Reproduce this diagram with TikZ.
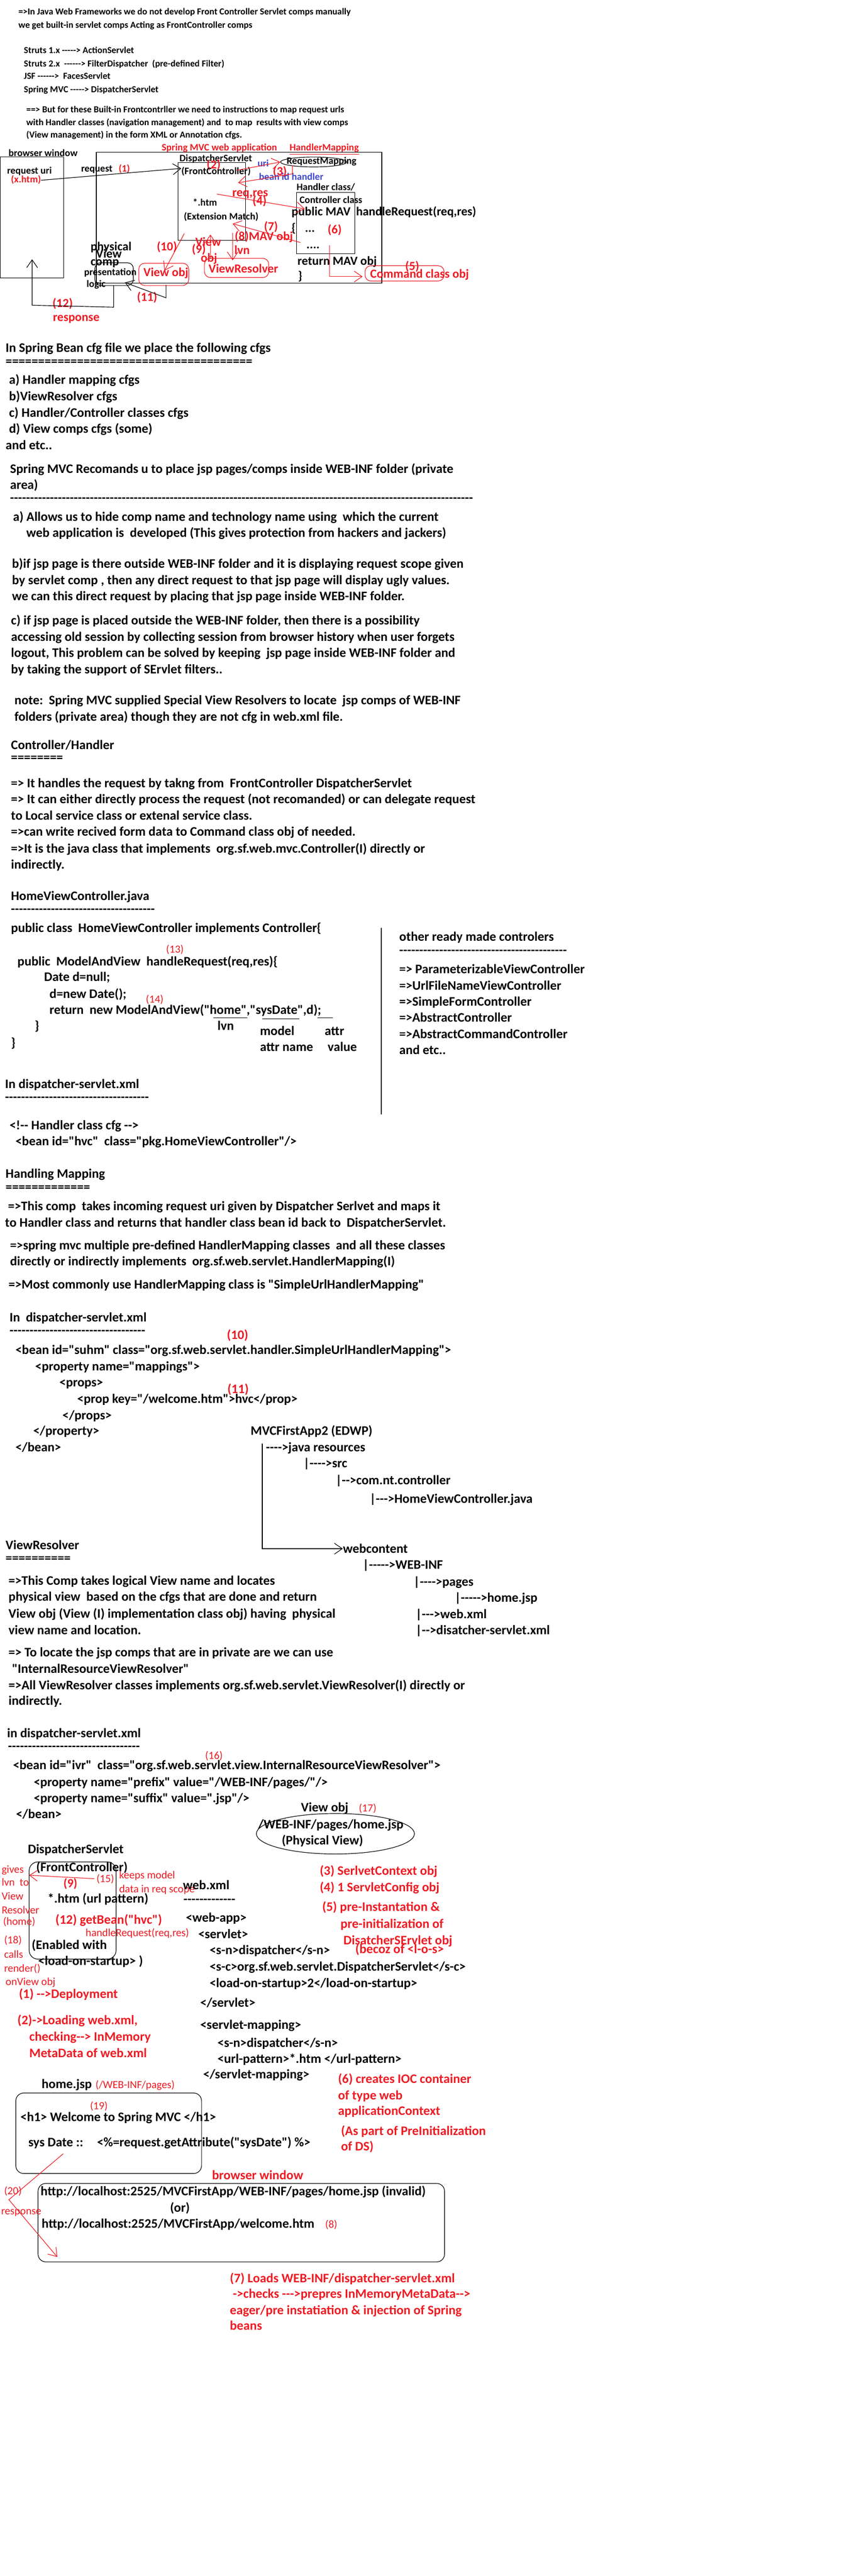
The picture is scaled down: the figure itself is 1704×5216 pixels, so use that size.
\documentclass[tikz,border=0pt]{standalone}
\usepackage{fontspec}
\setmainfont{Carlito}[Ligatures=TeXOff]
\usepackage{xcolor}
\definecolor{paintred}{RGB}{237,28,36}
\definecolor{paintblue}{RGB}{63,72,204}
\usepackage{tikz}
\usetikzlibrary{arrows.meta}
\usetikzlibrary{fit}
\usetikzlibrary{shapes.geometric}
\newcommand{\topfont}{\bfseries\fontsize{9.3}{11}\selectfont}
\newcommand{\bodyfont}{\bfseries\fontsize{13.2}{15}\selectfont}
\newcommand{\diafont}{\bfseries\fontsize{10}{12}\selectfont}
\newcommand{\bigfont}{\bfseries\fontsize{12.5}{14}\selectfont}
\newcommand{\thinfont}{\fontsize{11}{13}\selectfont}
\newcommand{\rep}[2]{\foreach \k in {1,...,#1}{#2}}
\tikzset{
    common/.style={anchor=base west, inner sep=0pt},
    toptext/.style={common, font=\topfont},
    body/.style={common, font=\bodyfont},
    rbody/.style={body, text=paintred},
    dia/.style={common, font=\diafont},
    rdia/.style={dia, text=paintred},
    bdia/.style={dia, text=paintblue},
    big/.style={common, font=\bigfont},
    rbig/.style={big, text=paintred},
    rthin/.style={common, font=\thinfont, text=paintred},
    pen/.style={line width=0.6pt},
    arr/.style={pen, -{Straight Barb[length=8pt,width=11pt]}},
    rarr/.style={arr, draw=paintred},
    box/.style={draw, pen, inner sep=0pt},
    kbox/.style={box, rounded corners=6pt},
    rbox/.style={box, draw=paintred, rounded corners=6pt}
}
\begin{document}
\begin{tikzpicture}[x=0.5pt, y=-0.5pt]
      \path[use as bounding box, fill=white] (0,0) rectangle (1704,5216);

      % front controllers
      \node[toptext] (fw-1) at (37,30) {=>In Java Web Frameworks we do not develop Front Controller Servlet comps manually};
      \node[toptext] (fw-2) at (37,57) {we get built-in servlet comps Acting as FrontController comps};
      \node[toptext] (fc-1) at (48,108) {Struts 1.x -----> ActionServlet};
      \node[toptext] (fc-2) at (48,135) {Struts 2.x\ \ ------> FilterDispatcher\ \ (pre-defined Filter)};
      \node[toptext] (fc-3) at (48,160) {JSF ------>\ \ FacesServlet};
      \node[toptext] (fc-4) at (48,187) {Spring MVC -----> DispatcherServlet};
      \node[toptext] (but-1) at (53,228) {==> But for these Built-in Frontcontrller we need to instructions to map request urls};
      \node[toptext] (but-2) at (53,254) {with Handler classes (navigation management) and\ \ to map\ \ results with view comps};
      \node[toptext] (but-3) at (53,279) {(View management) in the form XML or Annotation cfgs.};

      % flow diagram
      \node[dia] (bw-title) at (17,317) {browser window};
      \node[box, fit={(0,318) (129,563)}] (bw-box) {};
      \node[dia] (req-uri) at (14,352) {request uri};
      \node[rdia] (xhtm) at (22,370) {(x.htm)};
      \node[dia] (req-lbl) at (164,348) {request};
      \node[rdia] (n-1) at (240,348) {(1)};
      \node[box, fit={(195,308) (773,573)}] (app-box) {};
      \node[rdia] (app-title) at (327,305) {Spring MVC web application};
      \node[rdia] (hm-title) at (586,305) {HandlerMapping};
      \draw[pen, paintred] ([yshift=-3.5pt]hm-title.base west) -- ([yshift=-3.5pt]hm-title.base east);
      \node[dia] (ds-title) at (363,327) {DispatcherServlet};
      \node[box, fit={(360,329) (497,487)}] (ds-box) {};
      \node[rbig] (n-2) at (418,342) {(2)};
      \node[dia] (ds-fc) at (367,353) {(FrontController)};
      \node[box, ellipse, minimum width=67pt, minimum height=10pt] (rm-ell) at (635,328) {};
      \node[dia] (rm-lbl) at (580,332) {RequestMapping};
      \node[bdia] (uri) at (521,337) {uri};
      \node[rbig] (n-3) at (552,355) {(3)};
      \node[bdia] (bean-id) at (524,365) {bean id handler};
      \node[dia] (hc-title) at (600,385) {Handler class/};
      \node[box, fit={(600,390) (718,514)}] (hc-box) {};
      \node[dia] (cc-title) at (606,412) {Controller class};
      \node[big] (hr-sig) at (590,437) {public MAV\ \ handleRequest(req,res)};
      \node[big] (hr-open) at (590,470) {\{};
      \node[big] (hr-dots) at (617,470) {...};
      \node[rbig] (n-6) at (663,473) {(6)};
      \node[big] (hr-dots2) at (620,503) {....};
      \node[big] (hr-ret) at (602,537) {return MAV obj};
      \node[big] (hr-close) at (603,567) {\}};
      \node[rbig] (reqres) at (470,398) {req,res};
      \node[rbig] (n-4) at (511,415) {(4)};
      \node[dia] (ext) at (390,417) {*.htm};
      \node[dia] (ext-match) at (372,445) {(Extension Match)};
      \node[rbig] (n-7) at (534,467) {(7)};
      \node[rbig] (mav) at (475,487) {(8)MAV obj};
      \node[rbig] (vo-view) at (395,498) {View};
      \node[rbig] (n-9) at (388,513) {(9)};
      \node[rbig] (vo-obj) at (406,530) {obj};
      \node[rbig] (lvn) at (474,515) {lvn};
      \node[rbox, fit={(414,523) (544,562)}] (vr-box) {};
      \node[rbig] (vr-lbl) at (422,552) {ViewResolver};
      \node[rbig] (n-10) at (317,507) {(10)};
      \node[rbox, fit={(281,533) (382,578)}] (vob-box) {};
      \node[rbig] (vob-lbl) at (290,560) {View obj};
      \node[big] (pv-1) at (183,507) {physical};
      \node[big] (pv-2) at (194,522) {View};
      \node[big] (pv-3) at (183,538) {comp};
      \node[kbox, fit={(192,532) (270,578)}] (pv-box) {};
      \node[dia] (pv-4) at (170,558) {presentation};
      \node[dia] (pv-5) at (175,582) {logic};
      \node[rbig] (n-11) at (277,610) {(11)};
      \node[rbig] (n-12) at (106,622) {(12)};
      \node[rbig] (resp) at (107,650) {response};
      \node[rbox, fit={(739,538) (899,569)}] (cmd-box) {};
      \node[rbig] (cmd-lbl) at (749,563) {Command class obj};
      \node[rbig] (n-5) at (820,547) {(5)};

      \coordinate (a1-s) at (83,365);
      \coordinate (a1-e) at (367,341);
      \coordinate (a2-s) at (479,345);
      \coordinate (a3-s) at (592,335);
      \coordinate (a3-e) at (482,370);
      \coordinate (a4-s) at (439,393);
      \coordinate (a4-e) at (617,423);
      \coordinate (a7-s) at (608,491);
      \coordinate (a7-e) at (471,453);
      \coordinate (a9-s) at (426,525);
      \coordinate (a9-e) at (426,475);
      \coordinate (a8-s) at (471,472);
      \coordinate (a8-e) at (471,527);
      \coordinate (a10-s) at (373,473);
      \coordinate (a10-e) at (333,548);
      \coordinate (a11-s) at (336,577);
      \coordinate (a11-e) at (253,572);
      \coordinate (a12-s) at (230,578);
      \coordinate (a12-e) at (65,525);
      \coordinate (a5-s) at (667,497);
      \coordinate (a5-e) at (734,560);

      \draw[arr] (a1-s) -- (a1-e);
      \draw[rarr] (a2-s) -- (rm-ell.west);
      \draw[rarr] (a3-s) -- ++(0,17) -- (a3-e);
      \draw[rarr] (a4-s) -- (a4-e);
      \draw[rarr] (a7-s) -- (a7-e);
      \draw[rarr] (a9-s) -- (a9-e);
      \draw[rarr] (a8-s) -- (a8-e);
      \draw[rarr] (a10-s) -- (a10-e);
      \draw[arr] (a11-s) -- ++(0,26) -- (a11-e);
      \draw[arr] (a12-s) -- ++(0,44) -- (65,618) -- (a12-e);
      \draw[rarr] (a5-s) |- (a5-e);

      % spring bean cfg file
      \node[body] (cfg-title) at (11,713) {In Spring Bean cfg file we place the following cfgs};
      \node[body] (cfg-rule) at (11,740) {\rep{38}{=}};
      \node[body] (cfg-a) at (18,778) {a) Handler mapping cfgs};
      \node[body] (cfg-b) at (18,811) {b)ViewResolver cfgs};
      \node[body] (cfg-c) at (18,844) {c) Handler/Controller classes cfgs};
      \node[body] (cfg-d) at (18,877) {d) View comps cfgs (some)};
      \node[body] (cfg-etc) at (11,910) {and etc..};
      \node[body] (wi-title) at (20,958) {Spring MVC Recomands u to place jsp pages/comps inside WEB-INF folder (private};
      \node[body] (wi-title2) at (20,991) {area)};
      \node[body] (wi-rule) at (20,1017) {\rep{116}{-}};
      \node[body] (wi-a1) at (26,1055) {a) Allows us to hide comp name and technology name using\ \ which the current};
      \node[body] (wi-a2) at (53,1088) {web application is\ \ developed (This gives protection from hackers and jackers)};
      \node[body] (wi-b1) at (24,1150) {b)if jsp page is there outside WEB-INF folder and it is displaying request scope given};
      \node[body] (wi-b2) at (24,1183) {by servlet comp , then any direct request to that jsp page will display ugly values.};
      \node[body] (wi-b3) at (24,1216) {we can this direct request by placing that jsp page inside WEB-INF folder.};
      \node[body] (wi-c1) at (22,1265) {c) if jsp page is placed outside the WEB-INF folder, then there is a possibility};
      \node[body] (wi-c2) at (22,1298) {accessing old session by collecting session from browser history when user forgets};
      \node[body] (wi-c3) at (22,1331) {logout, This problem can be solved by keeping\ \ jsp page inside WEB-INF folder and};
      \node[body] (wi-c4) at (22,1364) {by taking the support of SErvlet filters..};
      \node[body] (note-1) at (29,1427) {note:\ \ Spring MVC supplied Special View Resolvers to locate\ \ jsp comps of WEB-INF};
      \node[body] (note-2) at (29,1460) {folders (private area) though they are not cfg in web.xml file.};

      % controller / handler
      \node[body] (ch-title) at (22,1517) {Controller/Handler};
      \node[body] (ch-rule) at (22,1542) {\rep{8}{=}};
      \node[body] (ch-1) at (22,1594) {=> It handles the request by takng from\ \ FrontController DispatcherServlet};
      \node[body] (ch-2) at (22,1627) {=> It can either directly process the request (not recomanded) or can delegate request};
      \node[body] (ch-3) at (22,1660) {to Local service class or extenal service class.};
      \node[body] (ch-4) at (22,1693) {=>can write recived form data to Command class obj of needed.};
      \node[body] (ch-5) at (22,1727) {=>It is the java class that implements\ \ org.sf.web.mvc.Controller(I) directly or};
      \node[body] (ch-6) at (22,1759) {indirectly.};
      \node[body] (hvc-title) at (22,1823) {HomeViewController.java};
      \node[body] (hvc-rule) at (22,1849) {\rep{36}{-}};
      \node[body] (hvc-1) at (22,1888) {public class\ \ HomeViewController implements Controller\{};
      \node[rthin] (n-13) at (336,1929) {(13)};
      \node[body] (hvc-2) at (35,1955) {public\ \ ModelAndView\ \ handleRequest(req,res)\{};
      \node[body] (hvc-3) at (89,1987) {Date d=null;};
      \node[body] (hvc-4) at (100,2021) {d=new Date();};
      \node[rthin] (n-14) at (295,2031) {(14)};
      \node[body] (hvc-5) at (100,2054) {return\ \ new ModelAndView("home","sysDate",d);};
      \node[body] (hvc-6) at (70,2086) {\}};
      \node[body] (hvc-7) at (22,2120) {\}};
      \draw[pen] (432,2061) -- (501,2061) (531,2063) -- (606,2063) (643,2061) -- (674,2061);
      \node[body] (hvc-lvn) at (440,2086) {lvn};
      \node[body] (hvc-m1) at (526,2096) {model};
      \node[body] (hvc-m2) at (526,2129) {attr name};
      \node[body] (hvc-v1) at (657,2096) {attr};
      \node[body] (hvc-v2) at (663,2129) {value};
      \draw[pen] (772,1879) -- (772,2256);
      \node[body] (rc-title) at (808,1905) {other ready made controlers};
      \node[body] (rc-rule) at (808,1932) {\rep{42}{-}};
      \node[body] (rc-1) at (808,1971) {=> ParameterizableViewController};
      \node[body] (rc-2) at (808,2004) {=>UrlFileNameViewController};
      \node[body] (rc-3) at (808,2037) {=>SimpleFormController};
      \node[body] (rc-4) at (808,2069) {=>AbstractController};
      \node[body] (rc-5) at (808,2103) {=>AbstractCommandController};
      \node[body] (rc-6) at (808,2135) {and etc..};

      % handler mapping
      \node[body] (dx-title) at (10,2204) {In dispatcher-servlet.xml};
      \node[body] (dx-rule) at (10,2230) {\rep{36}{-}};
      \node[body] (dx-1) at (19,2287) {<!-- Handler class cfg -->};
      \node[body] (dx-2) at (31,2320) {<bean id="hvc"\ \ class="pkg.HomeViewController"/>};
      \node[body] (hm-head) at (11,2385) {Handling Mapping};
      \node[body] (hm-rule) at (11,2412) {\rep{13}{=}};
      \node[body] (hm-1) at (16,2451) {=>This comp\ \ takes incoming request uri given by Dispatcher Serlvet and maps it};
      \node[body] (hm-2) at (10,2484) {to Handler class and returns that handler class bean id back to\ \ DispatcherServlet.};
      \node[body] (hm-3) at (20,2530) {=>spring mvc multiple pre-defined HandlerMapping classes\ \ and all these classes};
      \node[body] (hm-4) at (20,2563) {directly or indirectly implements\ \ org.sf.web.servlet.HandlerMapping(I)};
      \node[body] (hm-5) at (17,2610) {=>Most commonly use HandlerMapping class is "SimpleUrlHandlerMapping"};
      \node[body] (sx-title) at (19,2676) {In\ \ dispatcher-servlet.xml};
      \node[body] (sx-rule) at (19,2702) {\rep{34}{-}};
      \node[rbody] (n-10b) at (459,2712) {(10)};
      \node[body] (sx-1) at (31,2742) {<bean id="suhm" class="org.sf.web.servlet.handler.SimpleUrlHandlerMapping">};
      \node[body] (sx-2) at (71,2775) {<property name="mappings">};
      \node[body] (sx-3) at (120,2808) {<props>};
      \node[rbody] (n-11b) at (460,2821) {(11)};
      \node[body] (sx-4) at (156,2841) {<prop key="/welcome.htm">hvc</prop>};
      \node[body] (sx-5) at (126,2874) {</props>};
      \node[body] (sx-6) at (67,2906) {</property>};
      \node[body] (sx-7) at (31,2939) {</bean>};

      % project tree
      \node[body] (tr-root) at (507,2906) {MVCFirstApp2 (EDWP)};
      \node[body] (tr-jr) at (538,2939) {---->java resources};
      \node[body] (tr-src) at (614,2971) {|---->src};
      \node[body] (tr-pkg) at (679,3006) {|-->com.nt.controller};
      \node[body] (tr-java) at (748,3043) {|--->HomeViewController.java};
      \node[body] (tr-wc) at (694,3145) {webcontent};
      \node[body] (tr-wi) at (734,3177) {|----->WEB-INF};
      \node[body] (tr-pg) at (837,3211) {|---->pages};
      \node[body] (tr-home) at (920,3244) {|----->home.jsp};
      \node[body] (tr-web) at (841,3277) {|--->web.xml};
      \node[body] (tr-ds) at (841,3310) {|-->disatcher-servlet.xml};
      \coordinate (tr-top) at (531,2923);
      \draw[arr] (tr-top) |- (tr-wc.west);

      % view resolver
      \node[body] (vr-head) at (11,3137) {ViewResolver};
      \node[body] (vr-rule) at (11,3163) {\rep{10}{=}};
      \node[body] (vr-1) at (17,3209) {=>This Comp takes logical View name and locates};
      \node[body] (vr-2) at (17,3242) {physical view\ \ based on the cfgs that are done and return};
      \node[body] (vr-3) at (17,3276) {View obj (View (I) implementation class obj) having\ \ physical};
      \node[body] (vr-4) at (17,3309) {view name and location.};
      \node[body] (vr-5) at (17,3354) {=> To locate the jsp comps that are in private are we can use};
      \node[body] (vr-6) at (24,3388) {"InternalResourceViewResolver"};
      \node[body] (vr-7) at (17,3421) {=>All ViewResolver classes implements org.sf.web.servlet.ViewResolver(I) directly or};
      \node[body] (vr-8) at (17,3452) {indirectly.};
      \node[body] (ix-title) at (14,3518) {in dispatcher-servlet.xml};
      \node[body] (ix-rule) at (16,3544) {\rep{33}{-}};
      \node[rthin] (n-16) at (415,3562) {(16)};
      \node[body] (ix-1) at (26,3583) {<bean id="ivr"\ \ class="org.sf.web.servlet.view.InternalResourceViewResolver">};
      \node[body] (ix-2) at (68,3617) {<property name="prefix" value="/WEB-INF/pages/"/>};
      \node[body] (ix-3) at (68,3650) {<property name="suffix" value=".jsp"/>};
      \node[body] (ix-4) at (32,3682) {</bean>};
      \node[body] (vo-title) at (609,3668) {View obj};
      \node[rthin] (n-17) at (726,3668) {(17)};
      \node[box, ellipse, minimum width=160pt, minimum height=41pt] (vo-ell) at (679,3713) {};
      \node[body] (vo-path) at (522,3703) {/WEB-INF/pages/home.jsp};
      \node[body] (vo-phys) at (570,3735) {(Physical View)};

      % deployment
      \node[body] (dp-title) at (56,3753) {DispatcherServlet};
      \node[kbox, rounded corners=9pt, fit={(59,3770) (235,3967)}] (dp-box) {};
      \node[body] (dp-fc) at (73,3789) {(FrontController)};
      \node[rthin] (gv-1) at (3,3792) {gives};
      \node[rthin] (gv-2) at (3,3819) {lvn\ \ to};
      \node[rthin] (gv-3) at (3,3847) {View};
      \node[rthin] (gv-4) at (3,3875) {Resolver};
      \node[rthin] (gv-5) at (6,3898) {(home)};
      \coordinate (a15-s) at (191,3804);
      \coordinate (a15-e) at (59,3797);
      \draw[rarr] (a15-s) -- (a15-e);
      \node[rthin] (n-15) at (195,3811) {(15)};
      \node[rthin] (km-1) at (241,3804) {keeps model};
      \node[rthin] (km-2) at (241,3832) {data in req scope};
      \node[rbig] (n-9b) at (128,3822) {(9)};
      \node[body] (dp-url) at (96,3853) {*.htm (url pattern)};
      \node[rbody] (dp-gb) at (112,3896) {(12) getBean("hvc")};
      \node[rthin] (dp-hr) at (173,3921) {handleRequest(req,res)};
      \node[rthin] (rn-1) at (8,3935) {(18)};
      \node[rthin] (rn-2) at (8,3965) {calls};
      \node[rthin] (rn-3) at (8,3993) {render()};
      \node[rthin] (rn-4) at (11,4020) {onView obj};
      \node[body] (dp-en1) at (64,3947) {(Enabled with};
      \node[body] (dp-en2) at (77,3979) {<load-on-startup> )};
      \node[rbody] (st-1) at (38,4046) {(1) -->Deployment};
      \node[rbody] (st-2) at (35,4099) {(2)->Loading web.xml,};
      \node[rbody] (st-2b) at (59,4133) {checking--> InMemory};
      \node[rbody] (st-2c) at (59,4166) {MetaData of web.xml};

      % web.xml
      \node[body] (wx-title) at (370,3826) {web.xml};
      \node[body] (wx-rule) at (371,3854) {\rep{13}{-}};
      \node[body] (wx-1) at (376,3892) {<web-app>};
      \node[body] (wx-2) at (401,3925) {<servlet>};
      \node[body] (wx-3) at (424,3957) {<s-n>dispatcher</s-n>};
      \node[body] (wx-4) at (424,3991) {<s-c>org.sf.web.servlet.DispatcherServlet</s-c>};
      \node[body] (wx-5) at (424,4024) {<load-on-startup>2</load-on-startup>};
      \node[body] (wx-6) at (405,4064) {</servlet>};
      \node[body] (wx-7) at (405,4109) {<servlet-mapping>};
      \node[body] (wx-8) at (440,4145) {<s-n>dispatcher</s-n>};
      \node[body] (wx-9) at (440,4177) {<url-pattern>*.htm </url-pattern>};
      \node[body] (wx-10) at (411,4209) {</servlet-mapping>};
      \node[rbody] (st-3) at (647,3797) {(3) SerlvetContext obj};
      \node[rbody] (st-4) at (647,3830) {(4) 1 ServletConfig obj};
      \node[rbody] (st-5) at (652,3870) {(5) pre-Instantation \&};
      \node[rbody] (st-5b) at (689,3904) {pre-initialization of};
      \node[rbody] (st-5c) at (695,3937) {DisatcherSErvlet obj};
      \node[rbody] (st-5d) at (719,3955) {(becoz of <l-o-s>};
      \node[rbody] (st-6) at (684,4218) {(6) creates IOC container};
      \node[rbody] (st-6b) at (684,4251) {of type web};
      \node[rbody] (st-6c) at (684,4283) {applicationContext};
      \node[rbody] (st-6d) at (690,4323) {(As part of PreInitialization};
      \node[rbody] (st-6e) at (690,4355) {of DS)};

      % home.jsp and browser
      \node[body] (hj-title) at (84,4229) {home.jsp};
      \node[rthin] (hj-path) at (193,4229) {(/WEB-INF/pages)};
      \node[kbox, rounded corners=8pt, fit={(32,4238) (408,4401)}] (hj-box) {};
      \node[rthin] (n-19) at (182,4271) {(19)};
      \node[body] (hj-1) at (41,4295) {<h1> Welcome to Spring MVC </h1>};
      \node[body] (hj-2) at (57,4346) {sys Date ::};
      \node[body] (hj-3) at (196,4346) {<\%=request.getAttribute("sysDate") \%>};
      \node[rbody] (br-title) at (429,4413) {browser window};
      \node[kbox, rounded corners=8pt, fit={(77,4421) (900,4580)}] (br-box) {};
      \node[body] (br-1) at (82,4446) {http://localhost:2525/MVCFirstApp/WEB-INF/pages/home.jsp (invalid)};
      \node[body] (br-or) at (344,4479) {(or)};
      \node[body] (br-2) at (84,4511) {http://localhost:2525/MVCFirstApp/welcome.htm};
      \node[rthin] (n-8b) at (658,4511) {(8)};
      \node[rthin] (n-20) at (8,4443) {(20)};
      \node[rthin] (resp-b) at (2,4484) {response};
      \coordinate (a20-s) at (128,4361);
      \coordinate (a20-m) at (18,4454);
      \coordinate (a20-e) at (116,4570);
      \draw[rarr] (a20-s) -- (a20-m) -- (a20-e);
      \node[rbody] (st-7) at (465,4622) {(7) Loads WEB-INF/dispatcher-servlet.xml};
      \node[rbody] (st-7b) at (471,4653) {->checks --->prepres InMemoryMetaData-->};
      \node[rbody] (st-7c) at (465,4686) {eager/pre instatiation \& injection of Spring};
      \node[rbody] (st-7d) at (465,4718) {beans};
\end{tikzpicture}
\end{document}
